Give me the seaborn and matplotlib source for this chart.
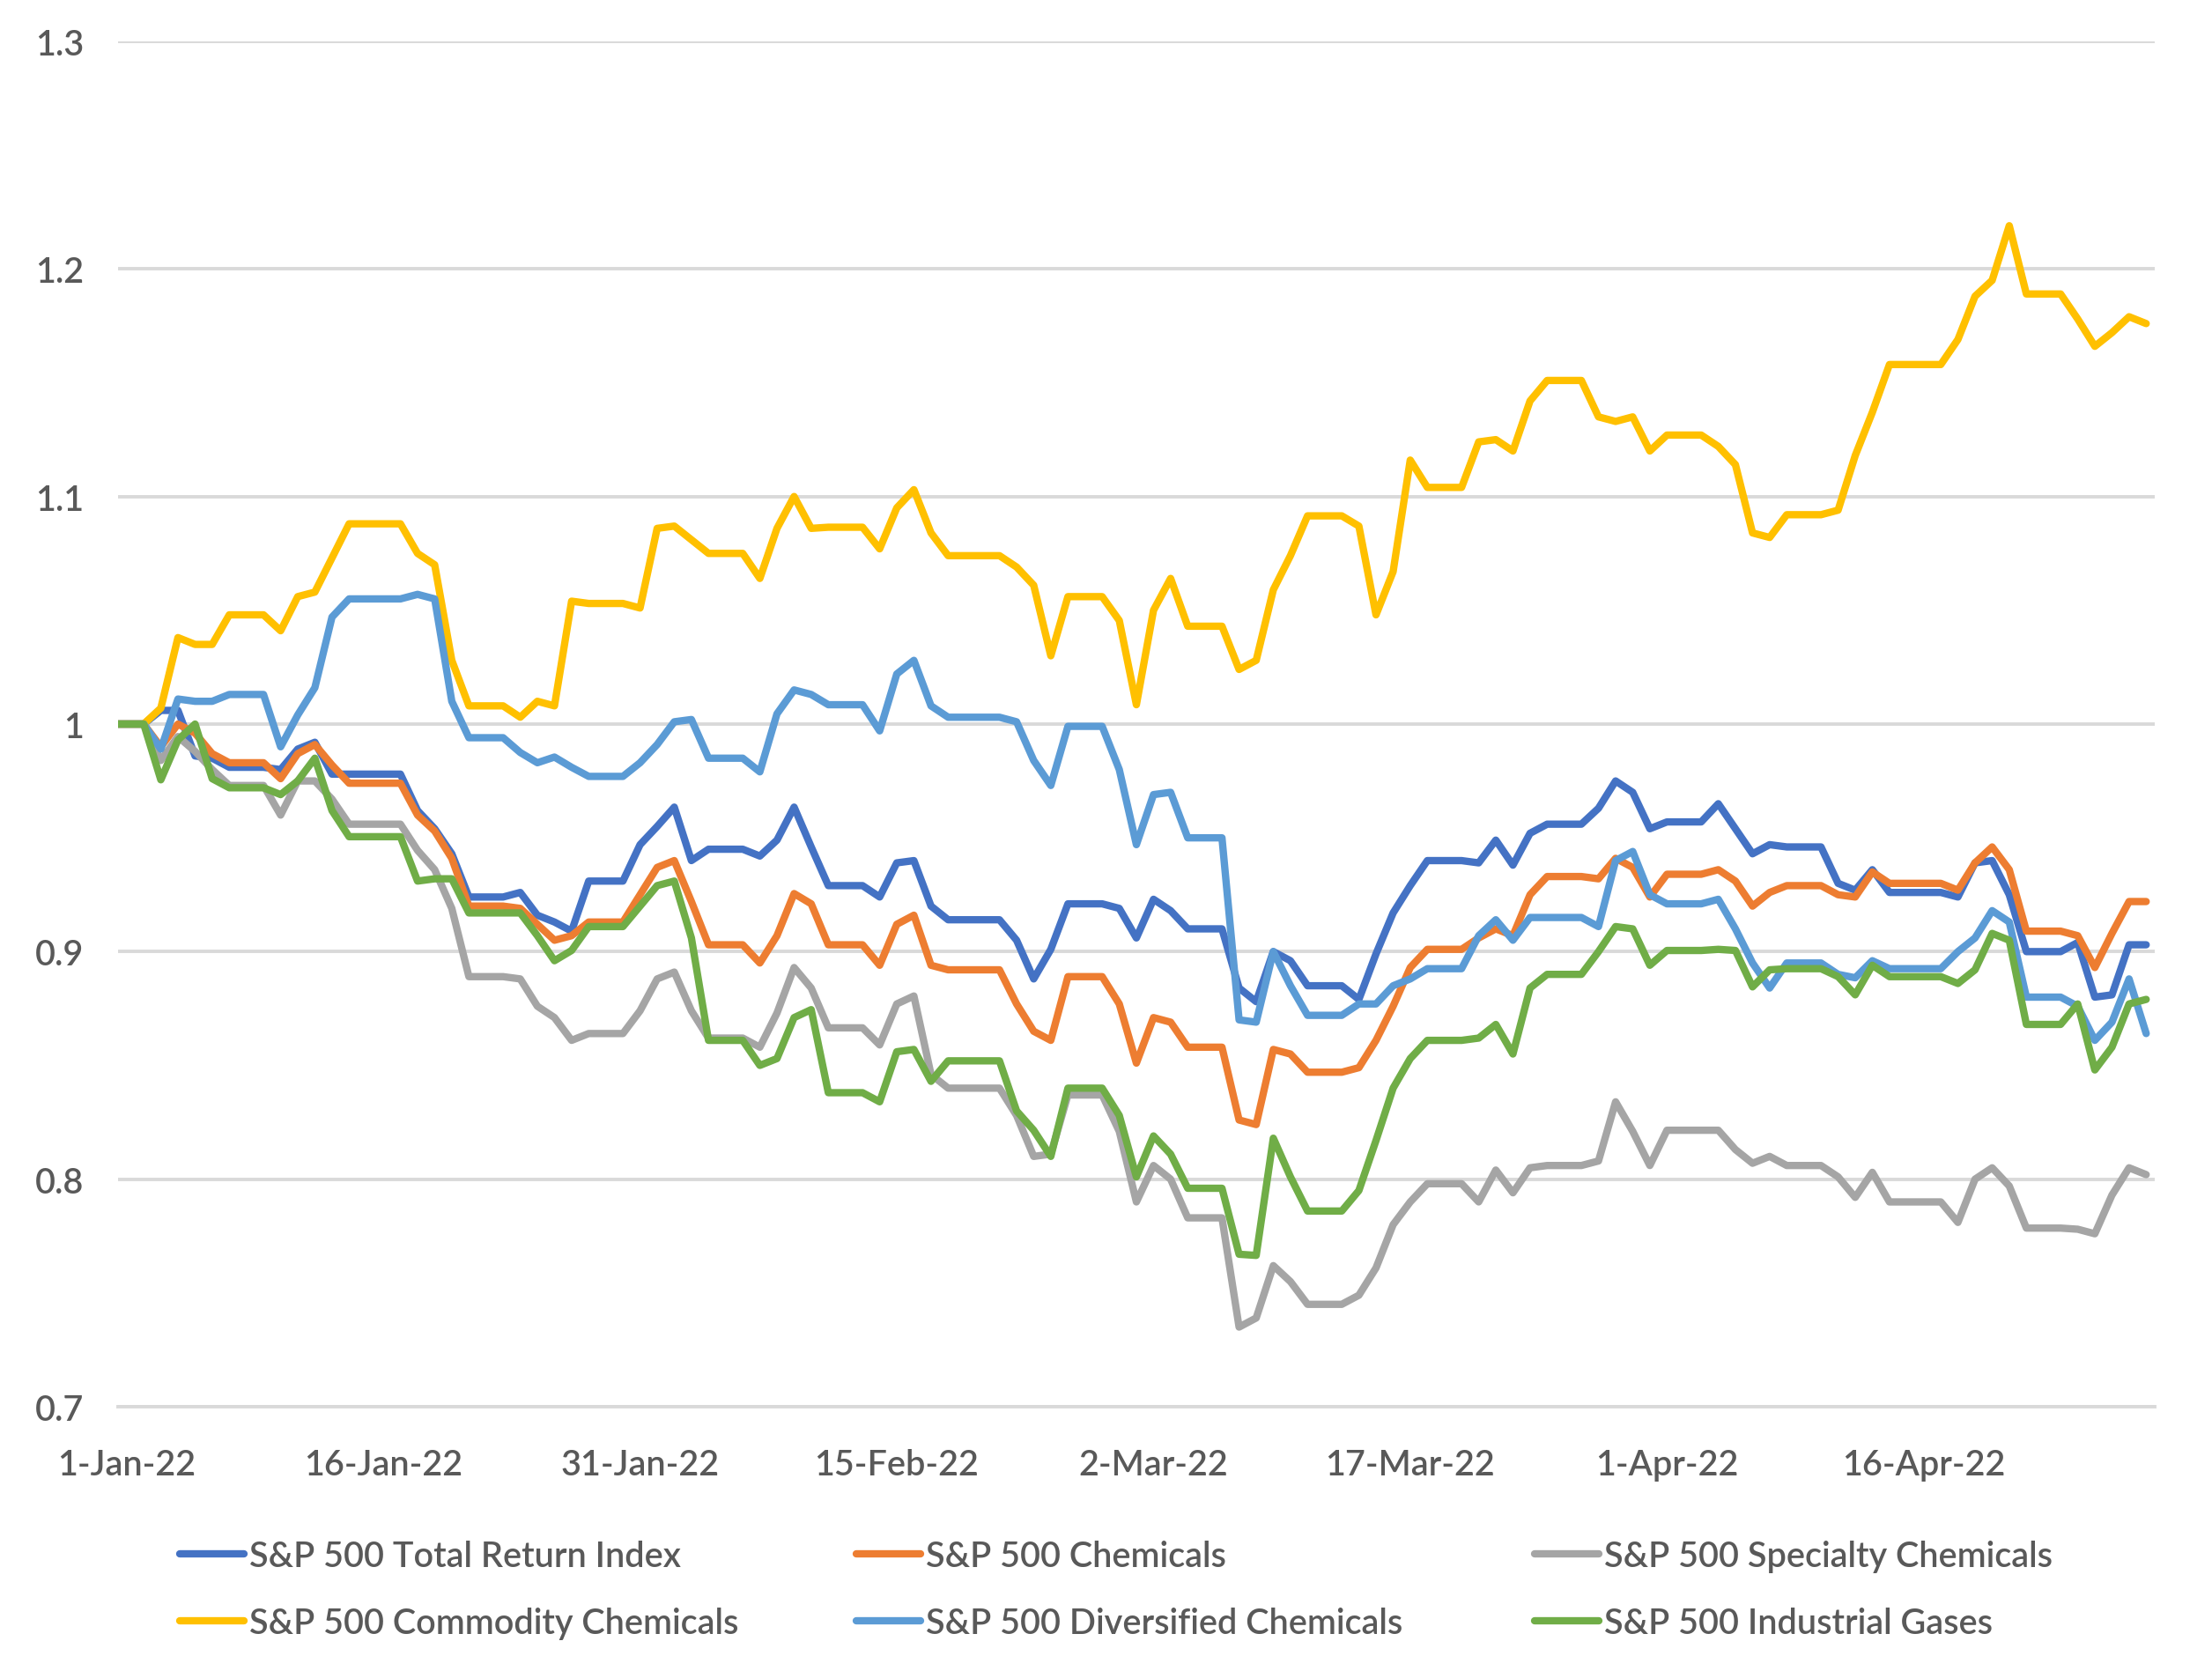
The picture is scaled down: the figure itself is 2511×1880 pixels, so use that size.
import matplotlib
matplotlib.use("Agg")
import matplotlib.pyplot as plt
import matplotlib.dates as mdates
from matplotlib.ticker import FixedLocator, FixedFormatter, NullFormatter
from matplotlib.lines import Line2D
import seaborn as sns
import numpy as np
import pandas as pd

# ---------------- data ----------------
base_date = "2021-12-31"
first_trading_day = "2022-01-03"
last_trading_day = "2022-04-29"
market_holidays = ["2022-01-17", "2022-02-21", "2022-04-15"]

series_names = [
    "S&P 500 Total Return Index",
    "S&P 500 Chemicals",
    "S&P 500 Specialty Chemicals",
    "S&P 500 Commodity Chemicals",
    "S&P 500 Diversified Chemicals",
    "S&P 500 Industrial Gases",
]
series_colors = ["#4472C4", "#ED7D31", "#A5A5A5", "#FFC000", "#5B9BD5", "#70AD47"]

total_return = [1.0,
    1.006, 1.006, 0.986, 0.985, 0.981, 0.980, 0.989, 0.992, 0.978, 0.978,
    0.962, 0.954, 0.943, 0.924, 0.926, 0.916, 0.913, 0.909, 0.931, 0.947,
    0.955, 0.9635, 0.940, 0.945, 0.942, 0.949, 0.9635, 0.946, 0.929, 0.924,
    0.939, 0.940, 0.920, 0.914, 0.905, 0.888, 0.901, 0.921, 0.919,
    0.906, 0.923, 0.918, 0.910, 0.884, 0.878, 0.900, 0.896, 0.885, 0.879,
    0.899, 0.917, 0.929, 0.940, 0.939, 0.949, 0.938, 0.952, 0.956, 0.963,
    0.975, 0.970, 0.954,
    0.957, 0.965, 0.954, 0.943, 0.947, 0.946, 0.930, 0.927, 0.936, 0.926,
    0.924, 0.939, 0.940, 0.925, 0.900, 0.904, 0.880, 0.881, 0.903, 0.903]

chemicals = [1.0,
    0.990, 1.000, 0.996, 0.987, 0.983, 0.976, 0.987, 0.991, 0.982, 0.974,
    0.960, 0.953, 0.941, 0.920, 0.919, 0.912, 0.905, 0.907, 0.913, 0.925,
    0.937, 0.940, 0.922, 0.903, 0.895, 0.907, 0.9255, 0.921, 0.903, 0.894,
    0.912, 0.916, 0.894, 0.892, 0.877, 0.865, 0.861, 0.889, 0.877,
    0.851, 0.871, 0.869, 0.858, 0.826, 0.824, 0.857, 0.855, 0.847, 0.849,
    0.861, 0.876, 0.893, 0.901, 0.906, 0.910, 0.907, 0.925, 0.933, 0.932,
    0.941, 0.937, 0.924,
    0.934, 0.936, 0.931, 0.920, 0.926, 0.929, 0.925, 0.924, 0.935, 0.930,
    0.927, 0.939, 0.946, 0.936, 0.909, 0.907, 0.893, 0.908, 0.922, 0.922]

specialty = [1.0,
    0.984, 0.9945, 0.988, 0.980, 0.973, 0.960, 0.975, 0.975, 0.967, 0.956,
    0.9445, 0.936, 0.919, 0.889, 0.888, 0.876, 0.871, 0.861, 0.864, 0.874,
    0.888, 0.891, 0.874, 0.862, 0.858, 0.873, 0.893, 0.884, 0.8665, 0.859,
    0.877, 0.8805, 0.846, 0.840, 0.828, 0.810, 0.811, 0.837, 0.821,
    0.790, 0.806, 0.800, 0.783, 0.735, 0.739, 0.762, 0.755, 0.745, 0.749,
    0.761, 0.780, 0.790, 0.798, 0.790, 0.804, 0.794, 0.805, 0.806, 0.808,
    0.834, 0.821, 0.806,
    0.8215, 0.8215, 0.813, 0.807, 0.810, 0.806, 0.801, 0.792, 0.803, 0.790,
    0.781, 0.800, 0.805, 0.797, 0.7785, 0.778, 0.776, 0.793, 0.805, 0.802]

commodity = [1.0,
    1.007, 1.038, 1.035, 1.035, 1.048, 1.041, 1.056, 1.058, 1.073, 1.088,
    1.075, 1.070, 1.028, 1.008, 1.003, 1.010, 1.008, 1.054, 1.053, 1.051,
    1.086, 1.087, 1.081, 1.075, 1.064, 1.086, 1.100, 1.086, 1.0865, 1.077,
    1.095, 1.103, 1.084, 1.074, 1.069, 1.061, 1.030, 1.056, 1.0455,
    1.0085, 1.050, 1.064, 1.043, 1.024, 1.028, 1.059, 1.074, 1.0915, 1.087,
    1.048, 1.067, 1.116, 1.104, 1.124, 1.125, 1.120, 1.142, 1.151, 1.135,
    1.133, 1.135, 1.120,
    1.127, 1.122, 1.114, 1.084, 1.082, 1.092, 1.094, 1.118, 1.137, 1.158,
    1.169, 1.188, 1.195, 1.219, 1.189, 1.178, 1.166, 1.172, 1.179, 1.176]

diversified = [1.0,
    0.989, 1.011, 1.010, 1.010, 1.013, 0.990, 1.004, 1.016, 1.047, 1.055,
    1.057, 1.055, 1.010, 0.994, 0.9875, 0.983, 0.9855, 0.981, 0.977, 0.983,
    0.991, 1.001, 1.002, 0.985, 0.979, 1.0045, 1.015, 1.013, 1.0085, 0.997,
    1.022, 1.028, 1.008, 1.003, 1.001, 0.984, 0.973, 0.999, 0.980,
    0.947, 0.969, 0.970, 0.950, 0.870, 0.869, 0.900, 0.885, 0.872, 0.877,
    0.877, 0.885, 0.888, 0.8925, 0.907, 0.914, 0.905, 0.915, 0.915, 0.911,
    0.940, 0.944, 0.925,
    0.921, 0.923, 0.910, 0.895, 0.884, 0.895, 0.890, 0.8885, 0.896, 0.8925,
    0.900, 0.906, 0.918, 0.913, 0.880, 0.876, 0.861, 0.869, 0.888, 0.864]

industrial_gases = [1.0,
    0.9755, 0.993, 1.000, 0.976, 0.972, 0.969, 0.975, 0.985, 0.962, 0.9505,
    0.931, 0.932, 0.932, 0.917, 0.917, 0.907, 0.896, 0.9005, 0.911, 0.920,
    0.929, 0.931, 0.906, 0.861, 0.850, 0.853, 0.871, 0.8745, 0.838, 0.834,
    0.856, 0.857, 0.843, 0.852, 0.830, 0.8215, 0.810, 0.840, 0.828,
    0.801, 0.819, 0.811, 0.796, 0.767, 0.7665, 0.818, 0.801, 0.786, 0.795,
    0.817, 0.840, 0.853, 0.861, 0.862, 0.868, 0.855, 0.884, 0.890, 0.900,
    0.911, 0.910, 0.894,
    0.9005, 0.901, 0.9005, 0.8845, 0.892, 0.8925, 0.889, 0.881, 0.894, 0.889,
    0.886, 0.892, 0.908, 0.905, 0.868, 0.877, 0.848, 0.858, 0.877, 0.879]

x_tick_dates = ["2022-01-01", "2022-01-16", "2022-01-31", "2022-02-15",
                "2022-03-02", "2022-03-17", "2022-04-01", "2022-04-16"]
x_tick_labels = ["1-Jan-22", "16-Jan-22", "31-Jan-22", "15-Feb-22",
                 "2-Mar-22", "17-Mar-22", "1-Apr-22", "16-Apr-22"]
y_tick_values = [0.7, 0.8, 0.9, 1.0, 1.1, 1.2, 1.3]
y_tick_labels = ["0.7", "0.8", "0.9", "1", "1.1", "1.2", "1.3"]

# ---------------- build table ----------------
trading_days = pd.bdate_range(first_trading_day, last_trading_day)
trading_days = trading_days[~trading_days.isin(pd.to_datetime(market_holidays))]
dates = pd.DatetimeIndex([pd.Timestamp(base_date)]).append(trading_days)

values = [total_return, chemicals, specialty, commodity, diversified, industrial_gases]
wide = pd.DataFrame({n: v for n, v in zip(series_names, values)}, index=dates)
# the chart is on a calendar-day axis, weekends/holidays carry the last close
daily = wide.reindex(pd.date_range(dates[0], dates[-1], freq="D")).ffill()
daily.index.name = "date"
long = daily.reset_index().melt(id_vars="date", var_name="series", value_name="value")

# ---------------- figure ----------------
sns.set_theme(style="white")
plt.rcParams["font.family"] = ["Lato", "DejaVu Sans"]
text_color = "#595959"
grid_color = "#D9D9D9"
fs = 28.5
fw = "semibold"

W, H = 2511, 1881
fig = plt.figure(figsize=(W / 100, H / 100), dpi=100)
ax = fig.add_axes([134 / W, 1 - 1598 / H, (2446 - 134) / W, (1598 - 48) / H])

palette = dict(zip(series_names, series_colors))
sns.lineplot(data=long, x="date", y="value", hue="series", hue_order=series_names,
             palette=palette, linewidth=6.0, estimator=None, legend=False, ax=ax)
for ln in ax.lines:
    ln.set_solid_joinstyle("round")
    ln.set_solid_capstyle("round")

half_day = pd.Timedelta(hours=12)
ax.set_xlim(pd.Timestamp(first_trading_day) - pd.Timedelta(days=2) - half_day,
            pd.Timestamp(last_trading_day) + half_day)
ax.set_ylim(y_tick_values[0], y_tick_values[-1])

# y axis
ax.yaxis.set_major_locator(FixedLocator(y_tick_values))
ax.yaxis.set_major_formatter(FixedFormatter(y_tick_labels))
ax.tick_params(axis="y", which="major", length=0, pad=28, labelsize=fs, labelcolor=text_color)
ax.yaxis.grid(True, color=grid_color, linewidth=2.8)
ax.xaxis.grid(False)
ax.set_axisbelow(True)

# x axis: tick marks between days, labels centred on the day
label_pos = mdates.date2num(pd.to_datetime(x_tick_dates))
mark_pos = mdates.date2num(pd.to_datetime(x_tick_dates) - half_day)
ax.xaxis.set_major_locator(FixedLocator(mark_pos))
ax.xaxis.set_major_formatter(NullFormatter())
ax.xaxis.set_minor_locator(FixedLocator(label_pos))
ax.xaxis.set_minor_formatter(FixedFormatter(x_tick_labels))
ax.tick_params(axis="x", which="major", length=10, width=2.8, color=grid_color, direction="out")
ax.tick_params(axis="x", which="minor", length=0, pad=34, labelsize=fs, labelcolor=text_color)
for lbl in ax.get_yticklabels() + ax.get_xticklabels(minor=True):
    lbl.set_fontweight(fw)

for s in ["top", "right", "left"]:
    ax.spines[s].set_visible(False)
ax.spines["bottom"].set_color(grid_color)
ax.spines["bottom"].set_linewidth(2.8)
ax.set_xlabel("")
ax.set_ylabel("")

# legend: 2 rows x 3 columns
handles = {n: Line2D([], [], color=c, linewidth=6.0, solid_capstyle="round")
           for n, c in zip(series_names, series_colors)}
columns = [[series_names[0], series_names[3]],
           [series_names[1], series_names[4]],
           [series_names[2], series_names[5]]]
col_x = [204, 972, 1742]
for names, x in zip(columns, col_x):
    fig.legend([handles[n] for n in names], names, loc="center left",
               bbox_to_anchor=(x / W, 1 - 1805.5 / H), frameon=False,
               prop={"size": fs, "weight": fw}, labelcolor=text_color, handlelength=1.85,
               handletextpad=0.15, labelspacing=0.98, borderpad=0, borderaxespad=0)

fig.savefig("out.png", dpi=100)
